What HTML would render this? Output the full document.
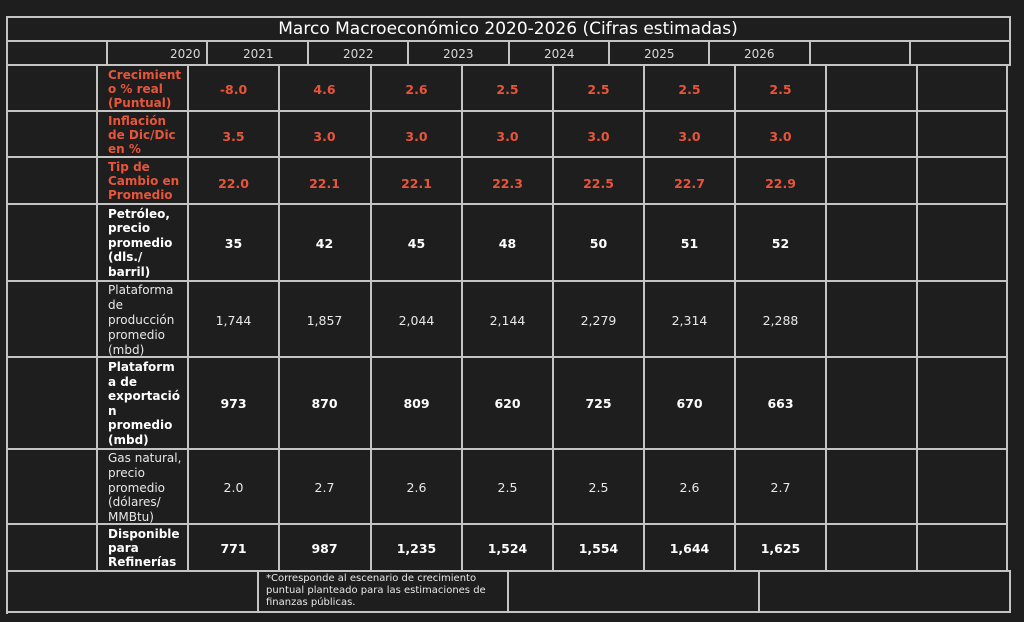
<!DOCTYPE html>
<html><head><meta charset="utf-8"><style>
body{margin:0;width:1024px;height:622px;background:#1e1e1e;overflow:hidden;position:relative;font-family:"DejaVu Sans","Liberation Sans",sans-serif}
.h{position:absolute;height:2px;background:#c4c4c4}
.v{position:absolute;width:2px;background:#c4c4c4}
.t{position:absolute;white-space:nowrap}
.lab{position:absolute;left:108px;white-space:pre;font-size:12px;line-height:14px;font-weight:bold}
.val{position:absolute;font-size:12.5px;font-weight:bold;text-align:center;width:91px}
.o{color:#e8553a}.w{color:#fff}.g{color:#e8e8e8;font-weight:normal}
.hd{position:absolute;top:47px;font-size:12px;color:#d8d8d8}
</style></head><body>
<div class="h" style="left:6px;top:16px;width:1005px"></div>
<div class="h" style="left:6px;top:40px;width:1005px"></div>
<div class="h" style="left:6px;top:64px;width:1005px"></div>
<div class="v" style="left:6px;top:16px;height:598px"></div>
<div class="v" style="left:1009px;top:16px;height:50px"></div>
<div class="t" style="left:0;width:1016px;top:19px;text-align:center;font-size:17px;color:#fff">Marco Macroeconómico 2020-2026 (Cifras estimadas)</div>
<div class="v" style="left:106px;top:40px;height:25px"></div>
<div class="v" style="left:206px;top:40px;height:25px"></div>
<div class="v" style="left:307px;top:40px;height:25px"></div>
<div class="v" style="left:407px;top:40px;height:25px"></div>
<div class="v" style="left:508px;top:40px;height:25px"></div>
<div class="v" style="left:608px;top:40px;height:25px"></div>
<div class="v" style="left:708px;top:40px;height:25px"></div>
<div class="v" style="left:809px;top:40px;height:25px"></div>
<div class="v" style="left:909px;top:40px;height:25px"></div>
<div class="hd" style="left:170px">2020</div>
<div class="hd" style="left:243px">2021</div>
<div class="hd" style="left:343px">2022</div>
<div class="hd" style="left:443px">2023</div>
<div class="hd" style="left:544px">2024</div>
<div class="hd" style="left:644px">2025</div>
<div class="hd" style="left:744px">2026</div>
<div class="h" style="left:6px;top:110px;width:1002px"></div>
<div class="h" style="left:6px;top:156px;width:1002px"></div>
<div class="h" style="left:6px;top:203px;width:1002px"></div>
<div class="h" style="left:6px;top:280px;width:1002px"></div>
<div class="h" style="left:6px;top:356px;width:1002px"></div>
<div class="h" style="left:6px;top:448px;width:1002px"></div>
<div class="h" style="left:6px;top:523px;width:1002px"></div>
<div class="h" style="left:6px;top:570px;width:1005px"></div>
<div class="h" style="left:6px;top:611px;width:1005px"></div>
<div class="v" style="left:96px;top:64px;height:508px"></div>
<div class="v" style="left:187px;top:64px;height:508px"></div>
<div class="v" style="left:278px;top:64px;height:508px"></div>
<div class="v" style="left:370px;top:64px;height:508px"></div>
<div class="v" style="left:461px;top:64px;height:508px"></div>
<div class="v" style="left:552px;top:64px;height:508px"></div>
<div class="v" style="left:643px;top:64px;height:508px"></div>
<div class="v" style="left:734px;top:64px;height:508px"></div>
<div class="v" style="left:825px;top:64px;height:508px"></div>
<div class="v" style="left:916px;top:64px;height:508px"></div>
<div class="v" style="left:1006px;top:64px;height:508px"></div>
<div class="v" style="left:257px;top:570px;height:43px"></div>
<div class="v" style="left:507px;top:570px;height:43px"></div>
<div class="v" style="left:758px;top:570px;height:43px"></div>
<div class="v" style="left:1009px;top:570px;height:43px"></div>
<div class="t" style="left:266px;top:573px;font-size:10px;line-height:12px;color:#e8e8e8">*Corresponde al escenario de crecimiento<br>puntual planteado para las estimaciones de<br>finanzas públicas.</div>

<div class="lab o" style="top:68px">Crecimient
o % real
(Puntual)</div>
<div class="lab o" style="top:114px">Inflación
de Dic/Dic
en %</div>
<div class="lab o" style="top:160px">Tip de
Cambio en
Promedio</div>
<div class="lab w" style="top:207px;line-height:14.4px">Petróleo,
precio
promedio
(dls./
barril)</div>
<div class="lab g" style="top:283px;line-height:15px">Plataforma
de
producción
promedio
(mbd)</div>
<div class="lab w" style="top:360px;line-height:14.6px">Plataform
a de
exportació
n
promedio
(mbd)</div>
<div class="lab g" style="top:451px;line-height:14.8px">Gas natural,
precio
promedio
(dólares/
MMBtu)</div>
<div class="lab w" style="top:527px">Disponible
para
Refinerías</div>

<div class="val o" style="left:188px;top:82px">-8.0</div><div class="val o" style="left:279px;top:82px">4.6</div><div class="val o" style="left:371px;top:82px">2.6</div><div class="val o" style="left:462px;top:82px">2.5</div><div class="val o" style="left:553px;top:82px">2.5</div><div class="val o" style="left:644px;top:82px">2.5</div><div class="val o" style="left:735px;top:82px">2.5</div>
<div class="val o" style="left:188px;top:129px">3.5</div><div class="val o" style="left:279px;top:129px">3.0</div><div class="val o" style="left:371px;top:129px">3.0</div><div class="val o" style="left:462px;top:129px">3.0</div><div class="val o" style="left:553px;top:129px">3.0</div><div class="val o" style="left:644px;top:129px">3.0</div><div class="val o" style="left:735px;top:129px">3.0</div>
<div class="val o" style="left:188px;top:176px">22.0</div><div class="val o" style="left:279px;top:176px">22.1</div><div class="val o" style="left:371px;top:176px">22.1</div><div class="val o" style="left:462px;top:176px">22.3</div><div class="val o" style="left:553px;top:176px">22.5</div><div class="val o" style="left:644px;top:176px">22.7</div><div class="val o" style="left:735px;top:176px">22.9</div>
<div class="val w" style="left:188px;top:236px">35</div><div class="val w" style="left:279px;top:236px">42</div><div class="val w" style="left:371px;top:236px">45</div><div class="val w" style="left:462px;top:236px">48</div><div class="val w" style="left:553px;top:236px">50</div><div class="val w" style="left:644px;top:236px">51</div><div class="val w" style="left:735px;top:236px">52</div>
<div class="val g" style="left:188px;top:313px">1,744</div><div class="val g" style="left:279px;top:313px">1,857</div><div class="val g" style="left:371px;top:313px">2,044</div><div class="val g" style="left:462px;top:313px">2,144</div><div class="val g" style="left:553px;top:313px">2,279</div><div class="val g" style="left:644px;top:313px">2,314</div><div class="val g" style="left:735px;top:313px">2,288</div>
<div class="val w" style="left:188px;top:396px">973</div><div class="val w" style="left:279px;top:396px">870</div><div class="val w" style="left:371px;top:396px">809</div><div class="val w" style="left:462px;top:396px">620</div><div class="val w" style="left:553px;top:396px">725</div><div class="val w" style="left:644px;top:396px">670</div><div class="val w" style="left:735px;top:396px">663</div>
<div class="val g" style="left:188px;top:480px">2.0</div><div class="val g" style="left:279px;top:480px">2.7</div><div class="val g" style="left:371px;top:480px">2.6</div><div class="val g" style="left:462px;top:480px">2.5</div><div class="val g" style="left:553px;top:480px">2.5</div><div class="val g" style="left:644px;top:480px">2.6</div><div class="val g" style="left:735px;top:480px">2.7</div>
<div class="val w" style="left:188px;top:541px">771</div><div class="val w" style="left:279px;top:541px">987</div><div class="val w" style="left:371px;top:541px">1,235</div><div class="val w" style="left:462px;top:541px">1,524</div><div class="val w" style="left:553px;top:541px">1,554</div><div class="val w" style="left:644px;top:541px">1,644</div><div class="val w" style="left:735px;top:541px">1,625</div>
</body></html>
